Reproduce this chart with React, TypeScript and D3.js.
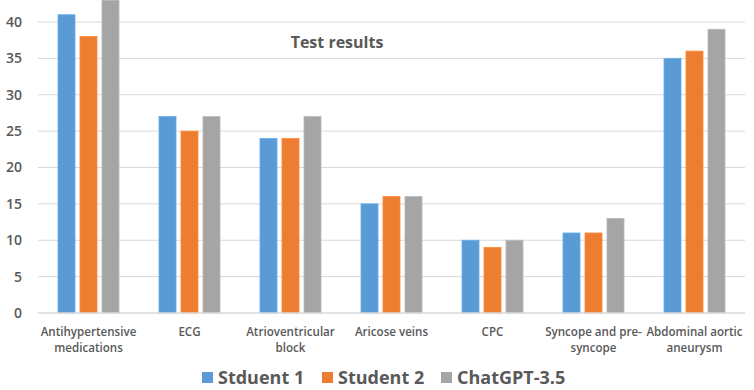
import React, { useEffect, useRef } from "react";
import * as d3 from "d3";

const categories = [
    ["Antihypertensive", "medications"],
    ["ECG"],
    ["Atrioventricular", "block"],
    ["Aricose veins"],
    ["CPC"],
    ["Syncope and pre-", "syncope"],
    ["Abdominal aortic", "aneurysm"],
];
const seriesNames = ["Stduent 1", "Student 2", "ChatGPT-3.5"];
const student1 = [41, 27, 24, 15, 10, 11, 35];
const student2 = [38, 25, 24, 16, 9, 11, 36];
const chatgpt = [43, 27, 27, 16, 10, 13, 39];
const yTicks = [0, 5, 10, 15, 20, 25, 30, 35, 40];
const colors = ["#5B9BD5", "#ED7D31", "#A5A5A5"];

const App = () => {
    const ref = useRef<SVGSVGElement>(null);

    useEffect(() => {
        const W = 754, H = 390;
        const svg = d3.select(ref.current).attr("width", W).attr("height", H);
        svg.selectAll("*").remove();

        const left = 38, right = 745, bottom = 313;
        const font = "'Open Sans', sans-serif";
        const series = [student1, student2, chatgpt];

        // 40 sits at y=22
        const y = d3.scaleLinear().domain([0, 40]).range([bottom, 22]);
        const x0 = d3.scaleBand().domain(categories.map((_, i) => String(i))).range([left, right]);
        const groupW = 61;
        const x1 = d3.scaleBand().domain(seriesNames)
            .range([(x0.bandwidth() - groupW) / 2, (x0.bandwidth() + groupW) / 2])
            .paddingInner(0.227);

        // gridlines
        svg.append("g").selectAll("line")
            .data(yTicks.slice(1))
            .enter().append("line")
            .attr("x1", left).attr("x2", right)
            .attr("y1", d => y(d)).attr("y2", d => y(d))
            .attr("stroke", "#d9d9d9").attr("stroke-width", 1);

        // y tick labels
        svg.append("g").selectAll("text")
            .data(yTicks)
            .enter().append("text")
            .attr("x", 22).attr("y", d => y(d))
            .attr("dy", "0.35em")
            .attr("text-anchor", "end")
            .attr("font-family", font).attr("font-size", 14).attr("font-weight", 600)
            .attr("fill", "#595959")
            .text(d => d);

        // bars
        const groups = svg.append("g").selectAll("g")
            .data(categories.map((_, i) => i))
            .enter().append("g")
            .attr("transform", i => `translate(${x0(String(i))},0)`);

        groups.selectAll("rect")
            .data(i => series.map((s, k) => ({ k, v: s[i] })))
            .enter().append("rect")
            .attr("x", d => x1(seriesNames[d.k])!)
            .attr("width", x1.bandwidth())
            .attr("y", d => y(d.v))
            .attr("height", d => bottom - y(d.v))
            .attr("fill", d => colors[d.k])
            .attr("stroke", d => d3.color(colors[d.k])!.brighter(0.3).toString())
            .attr("stroke-width", 0.8);

        // axis line
        svg.append("line")
            .attr("x1", left).attr("x2", right)
            .attr("y1", bottom).attr("y2", bottom)
            .attr("stroke", "#d9d9d9").attr("stroke-width", 1.5);

        // category labels, wrapped as in the original
        const labels = svg.append("g").selectAll("text")
            .data(categories)
            .enter().append("text")
            .attr("text-anchor", "middle")
            .attr("font-family", font).attr("font-size", 11.6).attr("font-weight", 600)
            .attr("fill", "#595959");
        labels.each(function (d, i) {
            const cx = x0(String(i))! + x0.bandwidth() / 2;
            d3.select(this).selectAll("tspan")
                .data(d)
                .enter().append("tspan")
                .attr("x", cx)
                .attr("y", (_, j) => 336 + j * 16)
                .text(t => t);
        });

        // title
        svg.append("text")
            .attr("x", 337).attr("y", 48)
            .attr("text-anchor", "middle")
            .attr("font-family", font).attr("font-size", 16).attr("font-weight", 700)
            .attr("fill", "#595959")
            .text("Test results");

        // legend
        const legendX = [202, 322, 441];
        const legend = svg.append("g").selectAll("g")
            .data(seriesNames)
            .enter().append("g")
            .attr("transform", (_, i) => `translate(${legendX[i]},372)`);
        legend.append("rect")
            .attr("width", 11).attr("height", 11)
            .attr("fill", (_, i) => colors[i]);
        legend.append("text")
            .attr("x", 16).attr("y", 12)
            .attr("font-family", font).attr("font-size", 18).attr("font-weight", 700)
            .attr("fill", "#595959")
            .text(d => d);
    }, []);

    return <svg ref={ref} style={{ position: "absolute", left: 0, top: 0 }}></svg>;
};

export default App;
